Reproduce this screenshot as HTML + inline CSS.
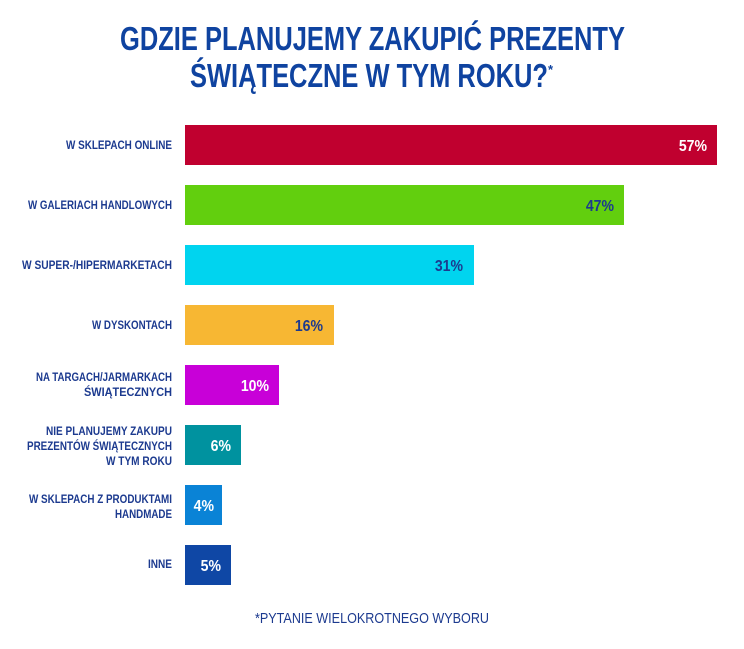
<!DOCTYPE html>
<html><head><meta charset="utf-8"><style>body{margin:0;background:#fff}svg{display:block}</style></head><body>
<svg width="744" height="649" xmlns="http://www.w3.org/2000/svg" font-family="Liberation Sans, sans-serif">
<rect width="744" height="649" fill="#fff"/>
<g fill="#0f43a0" font-weight="bold">
<text x="120" y="50" font-size="33" textLength="505" lengthAdjust="spacingAndGlyphs">GDZIE PLANUJEMY ZAKUPIĆ PREZENTY</text>
<text x="190" y="87" font-size="33" textLength="358" lengthAdjust="spacingAndGlyphs">ŚWIĄTECZNE W TYM ROKU?</text>
<text x="548" y="74" font-size="13">*</text>
</g>
<rect x="185" y="125" width="532" height="40" fill="#c0002f"/>
<rect x="185" y="185" width="439" height="40" fill="#62cf0e"/>
<rect x="185" y="245" width="289" height="40" fill="#00d4ef"/>
<rect x="185" y="305" width="149" height="40" fill="#f7b733"/>
<rect x="185" y="365" width="94" height="40" fill="#c800d8"/>
<rect x="185" y="425" width="56" height="40" fill="#00929f"/>
<rect x="185" y="485" width="37" height="40" fill="#0a83d6"/>
<rect x="185" y="545" width="46" height="40" fill="#0f47a5"/>
<g font-weight="bold" font-size="16" text-anchor="end">
<g transform="translate(707,151) scale(0.88,1)"><text fill="#fff">57%</text></g>
<g transform="translate(614,211) scale(0.88,1)"><text fill="#1c3a8f">47%</text></g>
<g transform="translate(463,271) scale(0.88,1)"><text fill="#1c3a8f">31%</text></g>
<g transform="translate(323,331) scale(0.88,1)"><text fill="#1c3a8f">16%</text></g>
<g transform="translate(269,391) scale(0.88,1)"><text fill="#fff">10%</text></g>
<g transform="translate(231,451) scale(0.88,1)"><text fill="#fff">6%</text></g>
<g transform="translate(214,511) scale(0.88,1)"><text fill="#fff">4%</text></g>
<g transform="translate(221,571) scale(0.88,1)"><text fill="#fff">5%</text></g>
</g>
<g font-weight="bold" font-size="12" fill="#1c3a8f" lengthAdjust="spacingAndGlyphs">
<text x="66" y="149" textLength="106" lengthAdjust="spacingAndGlyphs">W SKLEPACH ONLINE</text>
<text x="28" y="209" textLength="144" lengthAdjust="spacingAndGlyphs">W GALERIACH HANDLOWYCH</text>
<text x="22" y="269" textLength="150" lengthAdjust="spacingAndGlyphs">W SUPER-/HIPERMARKETACH</text>
<text x="92" y="329" textLength="80" lengthAdjust="spacingAndGlyphs">W DYSKONTACH</text>
<text x="36" y="381" textLength="136" lengthAdjust="spacingAndGlyphs">NA TARGACH/JARMARKACH</text>
<text x="84" y="396" textLength="88" lengthAdjust="spacingAndGlyphs">ŚWIĄTECZNYCH</text>
<text x="46" y="435" textLength="126" lengthAdjust="spacingAndGlyphs">NIE PLANUJEMY ZAKUPU</text>
<text x="27" y="450" textLength="145" lengthAdjust="spacingAndGlyphs">PREZENTÓW ŚWIĄTECZNYCH</text>
<text x="106" y="465" textLength="66" lengthAdjust="spacingAndGlyphs">W TYM ROKU</text>
<text x="29" y="503" textLength="143" lengthAdjust="spacingAndGlyphs">W SKLEPACH Z PRODUKTAMI</text>
<text x="115" y="518" textLength="57" lengthAdjust="spacingAndGlyphs">HANDMADE</text>
<text x="148" y="568" textLength="24" lengthAdjust="spacingAndGlyphs">INNE</text>
</g>
<text x="255" y="623" font-size="15" fill="#1c3a8f" textLength="234" lengthAdjust="spacingAndGlyphs">*PYTANIE WIELOKROTNEGO WYBORU</text>
</svg>
</body></html>
